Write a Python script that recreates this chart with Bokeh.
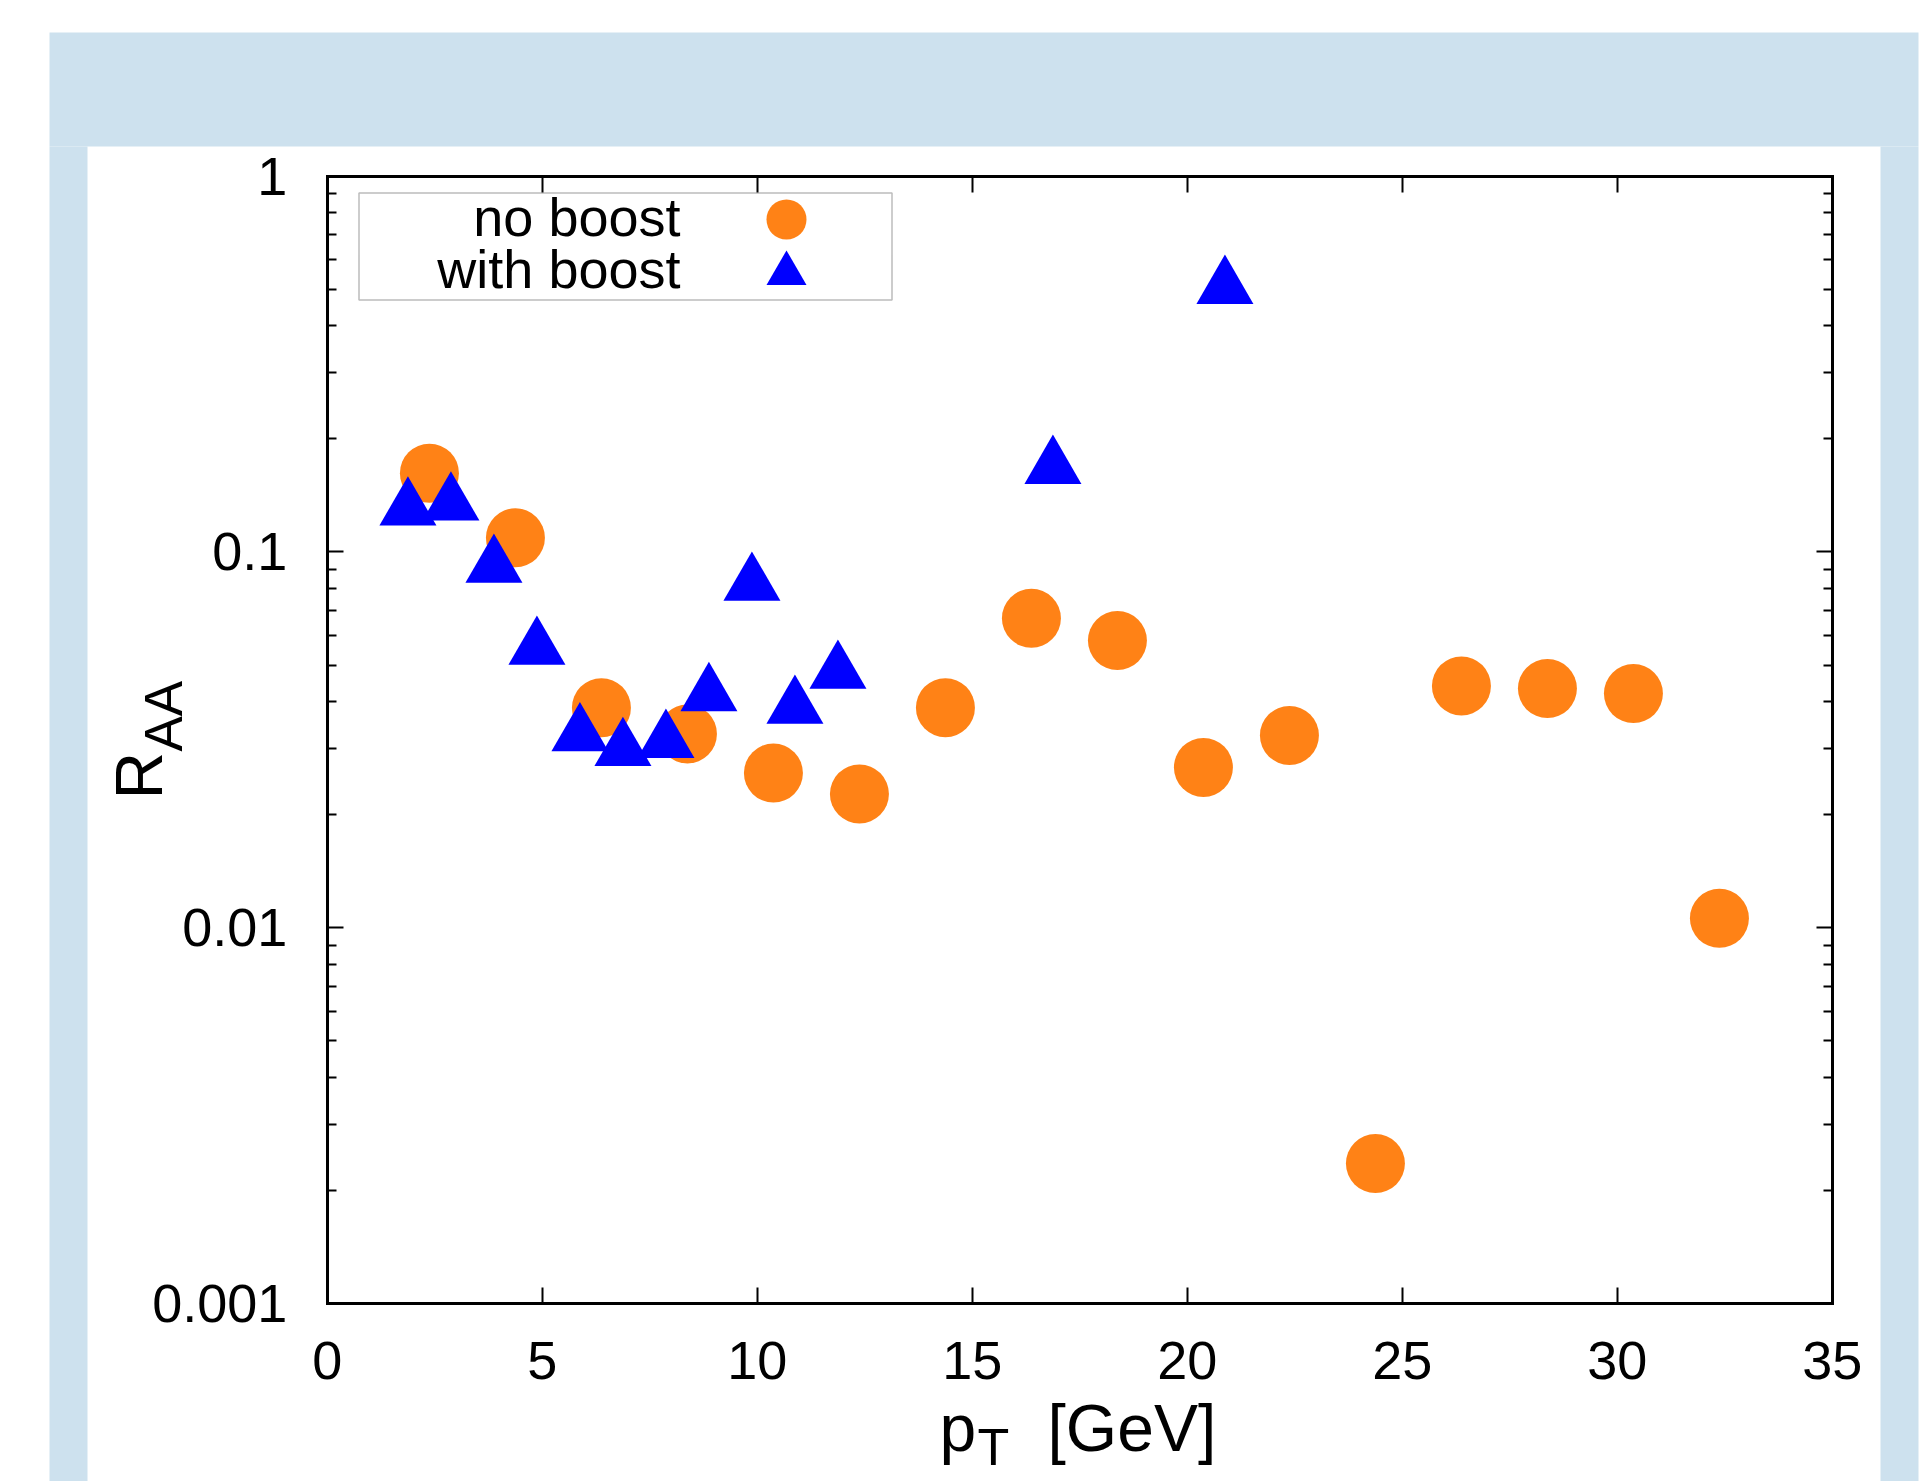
from math import pi
from bokeh.plotting import figure
from bokeh.models import (Range1d, FixedTicker, LogAxis, LinearAxis, BoxAnnotation,
                          Label, Legend, LegendItem, CustomJSTickFormatter)
from bokeh.embed import file_html
from bokeh.resources import INLINE

# ---------------- data ----------------
pt_no_boost = [2.375, 4.375, 6.375, 8.375, 10.375, 12.375, 14.375, 16.375,
               18.375, 20.375, 22.375, 24.375, 26.375, 28.375, 30.375, 32.375]
raa_no_boost = [0.162, 0.109, 0.0385, 0.0328, 0.0258, 0.0227, 0.0385, 0.0666,
                0.0581, 0.0267, 0.0325, 0.00236, 0.0440, 0.0433, 0.0420, 0.0106]

pt_with_boost = [1.875, 2.875, 3.875, 4.875, 5.875, 6.875, 7.875, 8.875,
                 9.875, 10.875, 11.875, 16.875, 20.875]
raa_with_boost = [0.130, 0.134, 0.0915, 0.0554, 0.0326, 0.0298, 0.0313, 0.0417,
                  0.0820, 0.0386, 0.0478, 0.1677, 0.505]

series_labels = ["no boost", "with boost"]
x_limits = (0, 35)
y_limits = (0.001, 1)
x_ticks = [0, 5, 10, 15, 20, 25, 30, 35]
y_ticks = [0.001, 0.01, 0.1, 1]
y_tick_labels = ["0.001", "0.01", "0.1", "1"]
y_minor_ticks = [m * 10.0 ** e for e in (-3, -2, -1) for m in range(2, 10)]
x_label_parts = ["p", "T", "[GeV]"]
y_label_parts = ["R", "AA"]

# ---------------- page geometry (pixels) ----------------
W, H = 1928, 1481
PX_X0, PX_PER_X = 326.8, 43.0        # pixel of x=0, pixels per x unit
PX_Y1, PX_PER_DEC = 175.5, 375.9     # pixel of y=1, pixels per decade

ORANGE = "#ff8216"
BLUE = "#0000ff"
PANEL_BLUE = "#cde1ee"
FONT = "Liberation Sans"
TICK_FS = "54px"

x_range = Range1d(-PX_X0 / PX_PER_X, (W - PX_X0) / PX_PER_X)
y_range = Range1d(10 ** (-(H - PX_Y1) / PX_PER_DEC), 10 ** (PX_Y1 / PX_PER_DEC))

p = figure(width=W, height=H, x_range=x_range, y_range=y_range,
           y_axis_type="log", output_backend="svg", toolbar_location=None, title=None,
           min_border=0, background_fill_color="white", border_fill_color="white")
p.grid.visible = False
p.outline_line_color = None


def style_axis(ax, show_labels):
    ax.axis_line_color = "black"
    ax.axis_line_width = 3
    ax.axis_line_cap = "square"
    ax.major_tick_in = 16
    ax.major_tick_out = 0
    ax.minor_tick_in = 9
    ax.minor_tick_out = 0
    ax.major_tick_line_width = 2
    ax.minor_tick_line_width = 2
    ax.major_tick_line_color = "black"
    ax.minor_tick_line_color = "black"
    ax.major_label_text_font = FONT
    ax.major_label_text_color = "black"
    ax.major_label_text_font_size = TICK_FS if show_labels else "0px"
    if not show_labels:
        ax.formatter = CustomJSTickFormatter(code="return ''")


xa = p.xaxis[0]
xa.ticker = FixedTicker(ticks=x_ticks, minor_ticks=[])
xa.fixed_location = y_limits[0]
xa.bounds = x_limits
style_axis(xa, True)
xa.major_label_standoff = 38

ya = p.yaxis[0]
ya.ticker = FixedTicker(ticks=y_ticks, minor_ticks=y_minor_ticks)
ya.major_label_overrides = {t: l for t, l in zip(y_ticks, y_tick_labels)}
ya.fixed_location = x_limits[0]
ya.bounds = y_limits
style_axis(ya, True)
ya.major_label_standoff = 40

top_ax = LinearAxis(ticker=FixedTicker(ticks=x_ticks, minor_ticks=[]),
                    fixed_location=y_limits[1], bounds=x_limits)
style_axis(top_ax, False)
p.add_layout(top_ax, "above")
right_ax = LogAxis(ticker=FixedTicker(ticks=y_ticks, minor_ticks=y_minor_ticks),
                   fixed_location=x_limits[1], bounds=y_limits)
style_axis(right_ax, False)
p.add_layout(right_ax, "right")


def box(l, r, t, b, **kw):
    # page pixels (top-left origin) -> screen units of the frame (bottom-left origin)
    return BoxAnnotation(left=l, right=r, top=H - t, bottom=H - b,
                         left_units="screen", right_units="screen",
                         top_units="screen", bottom_units="screen",
                         level="underlay", **kw)


# ---------------- light blue page frame ----------------
for l, r, t, b in [(49, 1918, 32, 146), (49, 87, 146, H + 5), (1880, 1918, 146, H + 5)]:
    p.add_layout(box(l, r, t, b, fill_color=PANEL_BLUE, fill_alpha=1, line_color=None))

# ---------------- data ----------------
r_no = p.scatter(pt_no_boost, raa_no_boost, marker="circle", size=59,
                 fill_color=ORANGE, line_color=None)
r_with = p.scatter(pt_with_boost, raa_with_boost, marker="triangle", size=57,
                   fill_color=BLUE, line_color=None)

# ---------------- legend ----------------
p.add_layout(box(358.5, 891.5, 192.5, 299.5, fill_color="white", fill_alpha=1,
                 line_color="#222222", line_width=1.5))


def text(txt, x, baseline_y, fs, angle=0.0, align="left"):
    size = float(fs.rstrip("px"))
    shift = 0.37 * size  # anchor-to-baseline offset used by the renderer
    if angle:
        sx, sy = x - shift, baseline_y
    else:
        sx, sy = x, baseline_y - shift
    return Label(x=sx, y=H - sy, x_units="screen", y_units="screen", text=txt,
                 angle=angle, text_align=align, text_baseline="alphabetic",
                 text_font=FONT, text_font_size=fs, text_color="black")


for txt, by in zip(series_labels, [236.7, 288.3]):
    p.add_layout(text(txt, 680, by, "54px", align="right"))

for rend, (gx, gy) in [(r_no, (785.6, 219.3)), (r_with, (786.0, 273.0))]:
    p.add_layout(Legend(items=[LegendItem(label="", renderers=[rend])],
                        location=(gx - 50, H - (gy + 50)),
                        glyph_width=100, glyph_height=100, padding=0, margin=0,
                        spacing=0, label_standoff=0, label_width=0, label_height=0,
                        label_text_font_size="1px", border_line_color=None,
                        background_fill_alpha=0))

# ---------------- axis titles with subscripts ----------------
p.add_layout(text(x_label_parts[0], 939, 1452, "66px"))
p.add_layout(text(x_label_parts[1], 977, 1466, "52px"))
p.add_layout(text(x_label_parts[2], 1047, 1452, "66px"))
p.add_layout(text(y_label_parts[0], 163, 799, "66px", angle=pi / 2))
p.add_layout(text(y_label_parts[1], 182.5, 751, "53px", angle=pi / 2))

open("out.html", "w").write(file_html(p, INLINE))
